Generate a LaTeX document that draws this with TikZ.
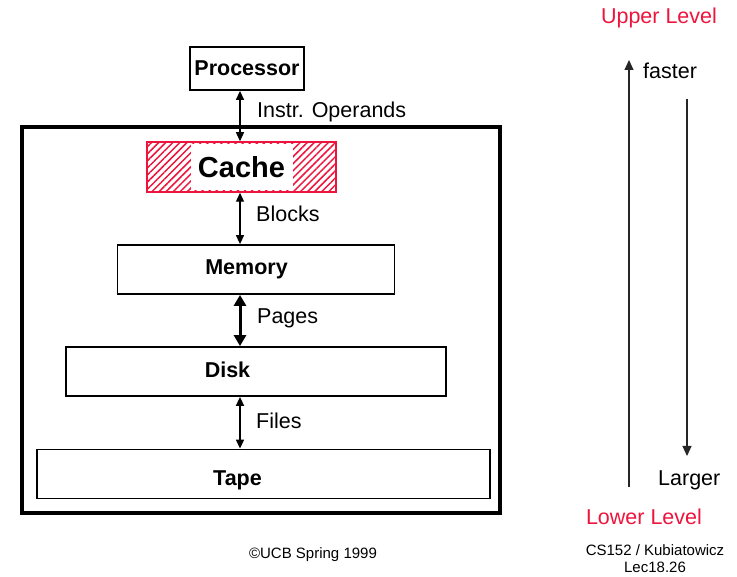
\documentclass[tikz,border=0pt]{standalone}
\usepackage{fontspec}
\setmainfont{Liberation Sans}
\usetikzlibrary{arrows.meta,patterns.meta}
\definecolor{ucbred}{RGB}{237,20,61}

\tikzset{
  level/.style={draw,line width=1.8pt,inner sep=0pt},
  leveltxt/.style={font=\fontsize{21.5}{25}\selectfont\bfseries,inner sep=0pt},
  biarrow/.style={{Triangle[length=9pt,width=8pt]}-{Triangle[length=9pt,width=8pt]},line width=1.3pt},
  lbl/.style={anchor=west,inner sep=0pt},
  redtxt/.style={text=ucbred,inner sep=0pt},
}

\begin{document}
\begin{tikzpicture}[x=1pt,y=-1pt,font=\fontsize{21.5}{25}\selectfont]
  \useasboundingbox (0,0) rectangle (737,577);
  % hierarchy, top to bottom
  \node[level,leveltxt,minimum width=114pt,minimum height=43pt] (proc) at (247,68.5) {Processor};
  \draw[line width=4pt] (22,127) rectangle (500,513);
  \node[draw=ucbred,line width=1.5pt,minimum width=189pt,minimum height=50pt,
        pattern={Lines[angle=45,distance=5pt,line width=1.5pt]},pattern color=ucbred] (cache) at (241.5,167) {};
  \node[fill=white,font=\fontsize{29}{33}\selectfont\bfseries,minimum width=102pt,minimum height=46pt,inner sep=0pt] (cachetxt) at (cache) {Cache};
  \node[level,minimum width=277pt,minimum height=49pt] (mem) at (256,269.5) {};
  \node[level,minimum width=380pt,minimum height=49pt] (disk) at (256,371.5) {};
  \node[level,minimum width=453pt,minimum height=49pt] (tape) at (263.5,474) {};
  \node[leveltxt] (memtxt) at (246.5,269) {Memory};
  \node[leveltxt] (disktxt) at (227.5,369.5) {Disk};
  \node[leveltxt] (tapetxt) at (237.5,480) {Tape};

  % transfers between levels
  \coordinate (axis) at (240,0);
  \draw[biarrow] (proc.south -| axis) -- (cache.north -| axis);
  \draw[biarrow] (cache.south -| axis) -- (mem.north -| axis);
  \draw[{Triangle[length=11pt,width=12pt]}-{Triangle[length=11pt,width=12pt]},line width=3pt] (mem.south -| axis) -- (disk.north -| axis);
  \draw[biarrow,line width=1.6pt] (disk.south -| axis) -- (tape.north -| axis);
  \node[lbl] (instr) at (257,112) {Instr. Operands};
  \node[lbl] (blocks) at (256,214) {Blocks};
  \node[lbl] (pages) at (257,318) {Pages};
  \node[lbl] (files) at (256,421) {Files};

  % speed / size scale
  \node[redtxt] (upper) at (659,18) {Upper Level};
  \node[redtxt] (lower) at (644,517) {Lower Level};
  \node[lbl] (faster) at (643,71) {faster};
  \node[lbl] (larger) at (658,480) {Larger};
  \coordinate (upbot) at (629,487);
  \coordinate (uptop) at (629,60);
  \coordinate (dntop) at (687,99);
  \coordinate (dnbot) at (687,456);
  \draw[-{Triangle[length=10pt,width=9pt]},line width=1.1pt,black!85] (upbot) -- (uptop);
  \draw[-{Triangle[length=10pt,width=9pt]},line width=1.1pt,black!85] (dntop) -- (dnbot);

  % footer
  \node[inner sep=0pt,font=\fontsize{15}{17}\selectfont] (copy) at (313,555) {©UCB Spring 1999};
  \node[inner sep=0pt,font=\fontsize{15}{17}\selectfont,align=center] (lec) at (655,559) {CS152 / Kubiatowicz\\Lec18.26};
\end{tikzpicture}
\end{document}
